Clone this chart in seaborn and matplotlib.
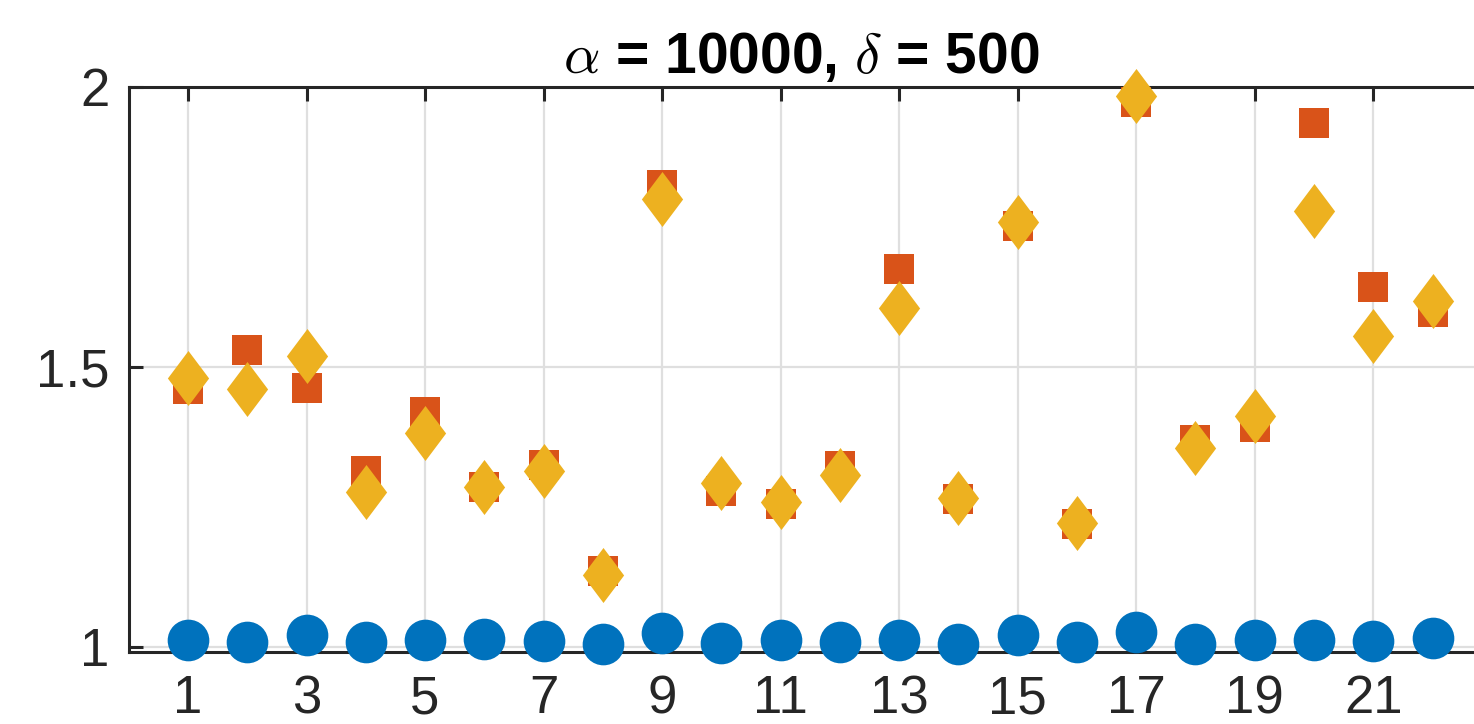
import numpy as np
import pandas as pd
import matplotlib
matplotlib.use("Agg")
import matplotlib.pyplot as plt
from matplotlib.path import Path
import seaborn as sns

# ----------------------------------------------------------
# Data
# ----------------------------------------------------------
index = list(range(1, 23))

circle_vals = [1.0125, 1.009, 1.021, 1.009, 1.0125, 1.014, 1.011, 1.005, 1.025, 1.007, 1.0125,
               1.009, 1.0125, 1.005, 1.021, 1.009, 1.027, 1.005, 1.0125, 1.0125, 1.011, 1.016]
square_vals = [1.461, 1.530, 1.4625, 1.314, 1.420, 1.286, 1.325, 1.136, 1.825, 1.279, 1.255,
               1.323, 1.675, 1.264, 1.752, 1.220, 1.973, 1.370, 1.393, 1.936, 1.643, 1.598]
diamond_vals = [1.480, 1.461, 1.520, 1.277, 1.382, 1.286, 1.314, 1.129, 1.800, 1.293, 1.259,
                1.307, 1.605, 1.266, 1.759, 1.221, 1.984, 1.355, 1.4125, 1.779, 1.555, 1.618]

xticks = [1, 3, 5, 7, 9, 11, 13, 15, 17, 19, 21]
yticks = [1, 1.5, 2]
ytick_labels = ["1", "1.5", "2"]

title = r"$\alpha$ = 10000, $\delta$ = 500"

BLUE = "#0072BD"
ORANGE = "#D95319"
YELLOW = "#EDB120"

# ----------------------------------------------------------
# Style
# ----------------------------------------------------------
sns.set_theme(style="ticks")
plt.rcParams["font.family"] = ["Liberation Sans", "DejaVu Sans"]
plt.rcParams["mathtext.fontset"] = "cm"

df = pd.DataFrame({"idx": index, "circle": circle_vals,
                   "square": square_vals, "diamond": diamond_vals})

# MATLAB-like diamond (narrower than it is tall)
diamond = Path([(0, 1), (0.75, 0), (0, -1), (-0.75, 0), (0, 1)],
               [Path.MOVETO, Path.LINETO, Path.LINETO, Path.LINETO, Path.CLOSEPOLY])

fig = plt.figure(figsize=(14.74, 7.24), dpi=100)
ax = fig.add_axes([128.75 / 1474, 72 / 724, 1 - 128.75 / 1474, 565 / 724])

sns.scatterplot(data=df, x="idx", y="circle", marker="o", s=30 ** 2,
                color=BLUE, linewidth=0, ax=ax, zorder=3, clip_on=False)
sns.scatterplot(data=df, x="idx", y="square", marker="s", s=21 ** 2,
                color=ORANGE, linewidth=0, ax=ax, zorder=4, clip_on=False)
sns.scatterplot(data=df, x="idx", y="diamond", marker=diamond, s=39.6 ** 2,
                color=YELLOW, linewidth=0, ax=ax, zorder=5, clip_on=False)

ax.set_xlim(0, 22.7)
ax.set_ylim(0.991, 2)
ax.set_xticks(xticks)
ax.set_yticks(yticks)
ax.set_yticklabels(ytick_labels)
ax.set_xlabel("")
ax.set_ylabel("")

ax.grid(True, color="#dfdfdf", linewidth=1.6)
ax.set_axisbelow(True)

for side in ["left", "top", "bottom"]:
    ax.spines[side].set_visible(True)
    ax.spines[side].set_color("#262626")
    ax.spines[side].set_linewidth(2.2)
ax.spines["right"].set_visible(False)

ax.tick_params(axis="both", direction="in", length=10, width=2.2, color="#262626",
               labelsize=38, labelcolor="#262626", top=True, bottom=True, left=True, right=False)
ax.tick_params(axis="x", pad=16)
ax.tick_params(axis="y", pad=14)

ax.set_title(title, fontsize=41, fontweight="bold", color="black", pad=10)

fig.savefig("out.png", dpi=100)
